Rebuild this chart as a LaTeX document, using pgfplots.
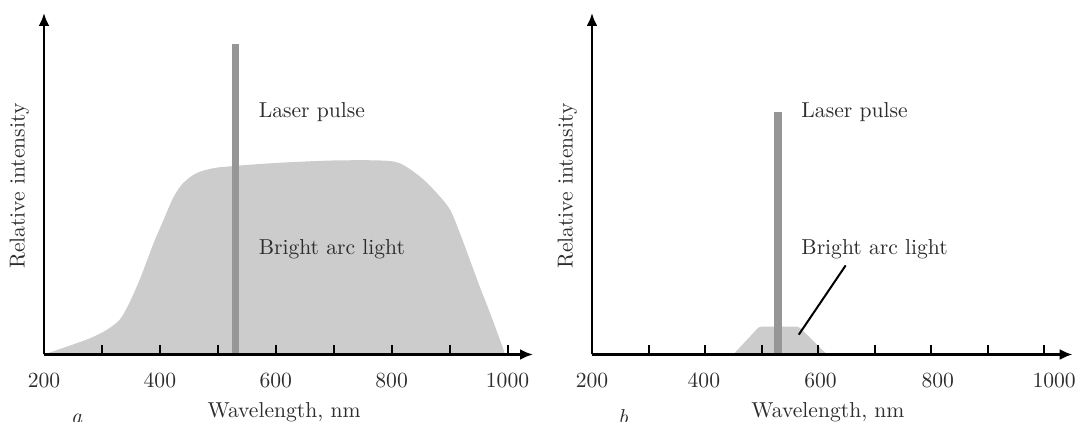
\documentclass[border=0pt]{standalone}
\usepackage{pgfplots}
\pgfplotsset{compat=1.18}
\usetikzlibrary{arrows.meta}

\definecolor{arcgray}{RGB}{204,204,204}
\definecolor{lasergray}{RGB}{150,150,150}
\definecolor{txt}{RGB}{45,45,45}

\newcommand{\lbl}{\fontsize{10.8}{13}\selectfont}

\pgfplotsset{
  spectrum/.style={
    scale only axis,
    axis lines=left,
    axis on top,
    axis line style={line width=1.2pt, -{Latex[length=6.5pt,width=5.5pt]}},
    height=170.75pt,
    ymin=0, ymax=1.10, xmin=200,
    ytick=\empty,
    xtick={200,300,...,1000},
    tick align=inside,
    major tick length=4.5pt,
    tick style={line width=1pt, black},
    /pgf/number format/1000 sep={},
    xticklabel style={font=\lbl, text=txt, anchor=base, yshift=-16.5pt},
    every axis x label/.style={at={(axis description cs:0.491,0)}, anchor=base, yshift=-31.4pt, font=\lbl, text=txt},
    xlabel={Wavelength, nm},
    ylabel={Relative intensity},
  }
}

\begin{document}
\begin{tikzpicture}
\path[use as bounding box] (0pt,0pt) rectangle (537.5pt,211pt);
\clip (0pt,0pt) rectangle (537.5pt,211pt);

% panel a: arc light is broad
\begin{axis}[spectrum,
  at={(22pt,33.75pt)}, anchor=south west,
  width=244.5pt, xmax=1044,
  xticklabels={200,,400,,600,,800,,1000},
  every axis y label/.style={at={(axis description cs:-0.0503,0.493)}, rotate=90, anchor=center, font=\lbl, text=txt},
]
\addplot[draw=none, fill=arcgray, smooth, tension=0.5] coordinates {
  (200,0) (239,0.025) (279,0.052) (308,0.079) (331,0.113) (347,0.165)
  (366,0.245) (389,0.358) (406,0.432) (423,0.505) (440,0.552) (463,0.584)
  (492,0.600) (521,0.606) (560,0.612) (620,0.619) (700,0.625) (780,0.625)
  (814,0.616) (849,0.573) (878,0.52) (901,0.466) (918,0.39) (935,0.305)
  (952,0.219) (970,0.133) (987,0.047) (996,0)
} \closedcycle;
\addplot[draw=none, fill=lasergray] coordinates {(524,1) (536,1)} \closedcycle;
\node[anchor=base west, inner sep=0, font=\lbl, text=txt] at (axis cs:570,0.764) {Laser pulse};
\node[anchor=base west, inner sep=0, font=\lbl, text=txt] at (axis cs:570,0.323) {Bright arc light};
\end{axis}

% panel b: arc light is filtered
\begin{axis}[spectrum,
  at={(296pt,33.75pt)}, anchor=south west,
  width=240.3pt, xmax=1050.6,
  xticklabels={200,,,,,,,,},
  extra x ticks={398,604.5,812,1018},
  extra x tick labels={400,600,800,1000},
  extra x tick style={major tick length=0pt},
  every axis y label/.style={at={(axis description cs:-0.0514,0.493)}, rotate=90, anchor=center, font=\lbl, text=txt},
]
\addplot[draw=none, fill=arcgray] coordinates {
  (450,0) (494,0.086) (500,0.09) (562,0.09) (568,0.086) (616,0)
} \closedcycle;
\addplot[draw=none, fill=lasergray] coordinates {(522,0.78) (536,0.78)} \closedcycle;
\draw[line width=1pt, black] (axis cs:566,0.064) -- (axis cs:649,0.287);
\node[anchor=base west, inner sep=0, font=\lbl, text=txt] at (axis cs:570,0.764) {Laser pulse};
\node[anchor=base west, inner sep=0, font=\lbl, text=txt] at (axis cs:570,0.321) {Bright arc light};
\end{axis}

\node[anchor=base, inner sep=0, font=\lbl\itshape, text=txt] at (38.3pt,-1pt) {a};
\node[anchor=base, inner sep=0, font=\lbl\itshape, text=txt] at (311.5pt,-1.5pt) {b};
\end{tikzpicture}
\end{document}
